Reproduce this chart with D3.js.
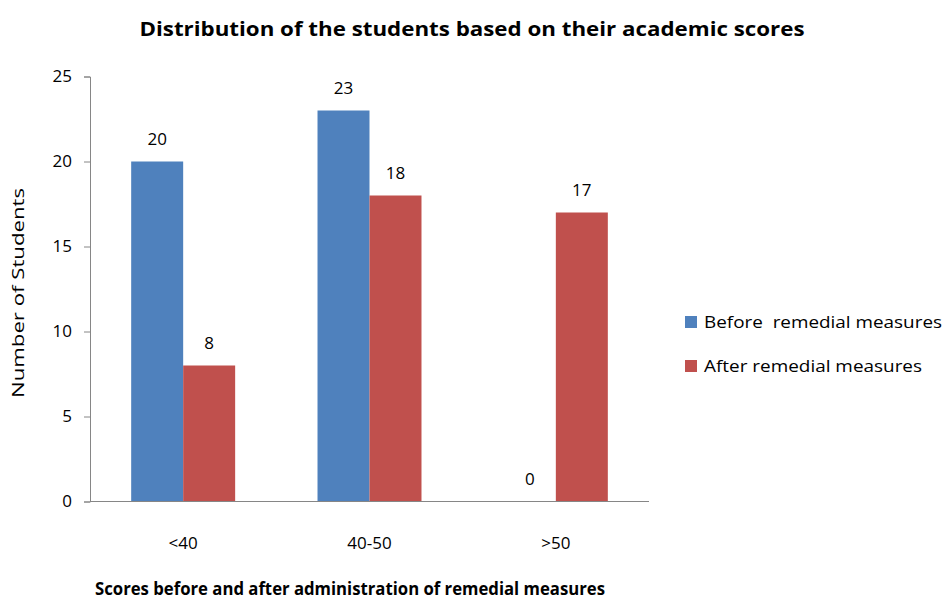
<!DOCTYPE html>
<html><head><meta charset="utf-8">
<script src="https://cdn.jsdelivr.net/npm/d3@7"></script>
<style>
body{margin:0;background:#fff;}
text{font-family:"Open Sans","Liberation Sans",sans-serif;fill:#000;}
</style></head><body>
<svg id="c" width="946" height="601"></svg>
<script>
const categories = ["<40", "40-50", ">50"];
const seriesNames = ["Before  remedial measures", "After remedial measures"];
const before = [20, 23, 0];
const after = [8, 18, 17];
const yTicks = [0, 5, 10, 15, 20, 25];
const colors = ["#4F81BD", "#C0504D"];

const svg = d3.select("#c");
const mLeft = 90, mRight = 649, mTop = 76.5, mBottom = 501.5;

const x0 = d3.scaleBand().domain(categories).range([mLeft, mRight]).paddingInner(0.442).paddingOuter(0.221);
const x1 = d3.scaleBand().domain([0, 1]).range([0, x0.bandwidth()]);
const y = d3.scaleLinear().domain([0, 25]).range([mBottom, mTop]);

const data = categories.map((c, i) => ({cat: c, vals: [before[i], after[i]]}));

// bars
const g = svg.append("g");
data.forEach(d => {
  d.vals.forEach((v, s) => {
    if (v > 0) {
      g.append("rect")
        .attr("x", x0(d.cat) + x1(s))
        .attr("y", y(v))
        .attr("width", x1.bandwidth())
        .attr("height", y(0) - y(v))
        .attr("fill", colors[s]);
    }
    g.append("text")
      .attr("x", x0(d.cat) + x1(s) + x1.bandwidth() / 2)
      .attr("y", y(v) - 17)
      .attr("text-anchor", "middle")
      .attr("font-size", 17)
      .text(v);
  });
});

// y axis
const yAxis = d3.axisLeft(y).tickValues(yTicks).tickSize(6).tickPadding(8);
const ya = svg.append("g").attr("transform", `translate(${mLeft},0)`).call(yAxis);
ya.select(".domain").attr("stroke", "#868686");
ya.selectAll(".tick line").attr("stroke", "#868686");
ya.selectAll(".tick text").attr("font-size", 17).attr("font-family", '"Open Sans",sans-serif').attr("fill", "#000").attr("dx", -4);

// x axis
const xa = svg.append("g").attr("transform", `translate(0,${mBottom})`).call(d3.axisBottom(x0).tickSize(0).tickPadding(0));
xa.select(".domain").attr("stroke", "#868686").attr("d", `M${mLeft},0H${mRight}`);
xa.selectAll(".tick text").attr("font-size", 17).attr("font-family", '"Open Sans",sans-serif').attr("fill", "#000").attr("y", 35);

// titles
svg.append("text").attr("x", 472).attr("y", 36).attr("text-anchor", "middle")
  .attr("font-size", 19).attr("font-weight", "bold")
  .attr("textLength", 665).attr("lengthAdjust", "spacingAndGlyphs")
  .text("Distribution of the students based on their academic scores");

svg.append("text").attr("x", 350).attr("y", 595).attr("text-anchor", "middle")
  .attr("font-size", 17).attr("font-weight", "bold")
  .attr("textLength", 510).attr("lengthAdjust", "spacingAndGlyphs")
  .text("Scores before and after administration  of remedial measures");

svg.append("text").attr("transform", "translate(24,293) rotate(-90)").attr("text-anchor", "middle")
  .attr("font-size", 16).attr("textLength", 210).attr("lengthAdjust", "spacingAndGlyphs")
  .text("Number of Students");

// legend
const legY = [322, 366];
const lengths = [238, 218];
seriesNames.forEach((n, i) => {
  svg.append("rect").attr("x", 685).attr("y", legY[i] - 6).attr("width", 12).attr("height", 12).attr("fill", colors[i]);
  svg.append("text").attr("x", 704).attr("y", legY[i] + 6).attr("font-size", 17)
    .style("white-space", "pre")
    .attr("textLength", lengths[i]).attr("lengthAdjust", "spacingAndGlyphs")
    .text(n);
});
</script>
</body></html>
